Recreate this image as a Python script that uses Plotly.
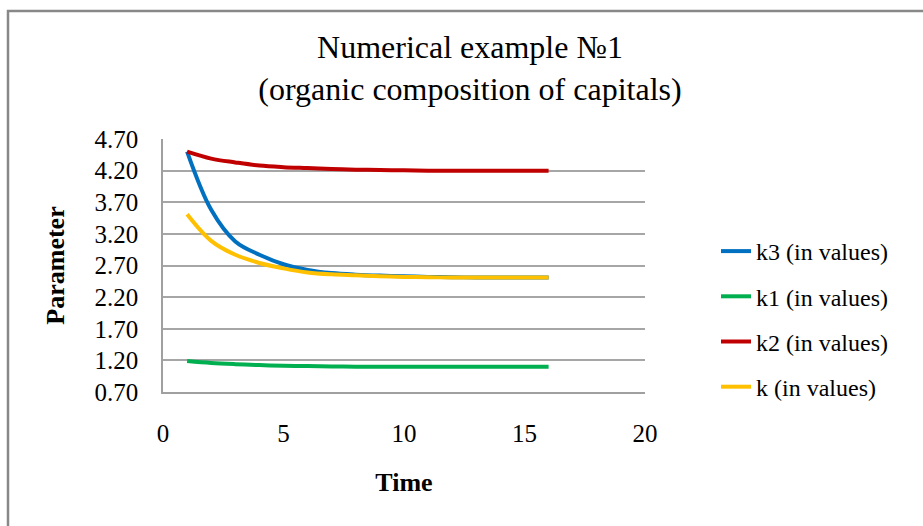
import plotly.graph_objects as go

# Time steps and parameter series
time = list(range(1, 17))
k3_values = [4.50, 3.58, 3.08, 2.87, 2.72, 2.63, 2.58, 2.555, 2.54, 2.53, 2.52, 2.515, 2.51, 2.51, 2.51, 2.51]
k1_values = [1.19, 1.16, 1.14, 1.125, 1.115, 1.11, 1.105, 1.10, 1.10, 1.10, 1.10, 1.10, 1.10, 1.10, 1.10, 1.10]
k2_values = [4.50, 4.39, 4.33, 4.28, 4.255, 4.24, 4.225, 4.215, 4.21, 4.205, 4.20, 4.20, 4.20, 4.20, 4.20, 4.20]
k_values = [3.51, 3.09, 2.87, 2.74, 2.655, 2.59, 2.56, 2.545, 2.53, 2.52, 2.515, 2.51, 2.51, 2.51, 2.51, 2.51]

series_names = ["k3 (in values)", "k1 (in values)", "k2 (in values)", "k (in values)"]
series_colors = ["#0070C0", "#00B050", "#C00000", "#FFC000"]
series_values = [k3_values, k1_values, k2_values, k_values]

y_ticks = [0.70, 1.20, 1.70, 2.20, 2.70, 3.20, 3.70, 4.20, 4.70]
x_ticks = [0, 5, 10, 15, 20]

FONT = "Liberation Serif, Times New Roman, serif"

fig = go.Figure()
for name, color, vals in zip(series_names, series_colors, series_values):
    fig.add_trace(go.Scatter(
        x=time, y=vals, name=name, mode="lines",
        line=dict(color=color, width=4, shape="spline", smoothing=1.0),
        legendgroup=name,
    ))

W, H = 923, 526
L, R, T, B = 163, 645, 139, 392
pw, ph = R - L, B - T

def px_x(x):
    return (x - L) / pw

def px_y(y):
    return (B - y) / ph

fig.update_layout(
    width=W, height=H,
    margin=dict(l=L, r=W - R, t=T, b=H - B, autoexpand=False),
    paper_bgcolor="white", plot_bgcolor="white",
    font=dict(family=FONT, color="black", size=25),
    title=dict(
        text="Numerical example №1<br>(organic composition of capitals)",
        x=470 / W, xanchor="center", y=1 - 58 / H, yanchor="middle",
        font=dict(family=FONT, size=32, color="black"),
    ),
    showlegend=True,
    legend=dict(
        x=px_x(716), xanchor="left", y=px_y(229), yanchor="top",
        font=dict(family=FONT, size=24, color="black"),
        tracegroupgap=11, itemwidth=30, bgcolor="rgba(0,0,0,0)",
    ),
    xaxis=dict(
        range=[0, 20], tickvals=x_ticks, ticktext=[str(v) for v in x_ticks],
        showgrid=False, zeroline=False,
        showline=True, linecolor="#a0a0a0", linewidth=1.5,
        ticks="", ticklabelstandoff=18,
        tickfont=dict(family=FONT, size=25, color="black"),
        title=dict(text="<b>Time</b>", font=dict(family=FONT, size=26, color="black"), standoff=27),
    ),
    yaxis=dict(
        range=[0.70, 4.70], tickvals=y_ticks, ticktext=[f"{v:.2f}" for v in y_ticks],
        showgrid=True, gridcolor="#a6a6a6", gridwidth=1.5, zeroline=False,
        showline=True, linecolor="#a0a0a0", linewidth=1.5,
        ticks="", ticklabelstandoff=18,
        tickfont=dict(family=FONT, size=25, color="black"),
        title=dict(text="<b>Parameter</b>", font=dict(family=FONT, size=26, color="black"), standoff=22),
    ),
)

# Outer chart border (left and top edges visible)
fig.add_shape(
    type="rect", xref="paper", yref="paper",
    x0=px_x(8), x1=px_x(940), y0=px_y(545), y1=px_y(11),
    line=dict(color="#888888", width=2.5), fillcolor="rgba(0,0,0,0)", layer="below",
)

fig.write_html("out.html")
